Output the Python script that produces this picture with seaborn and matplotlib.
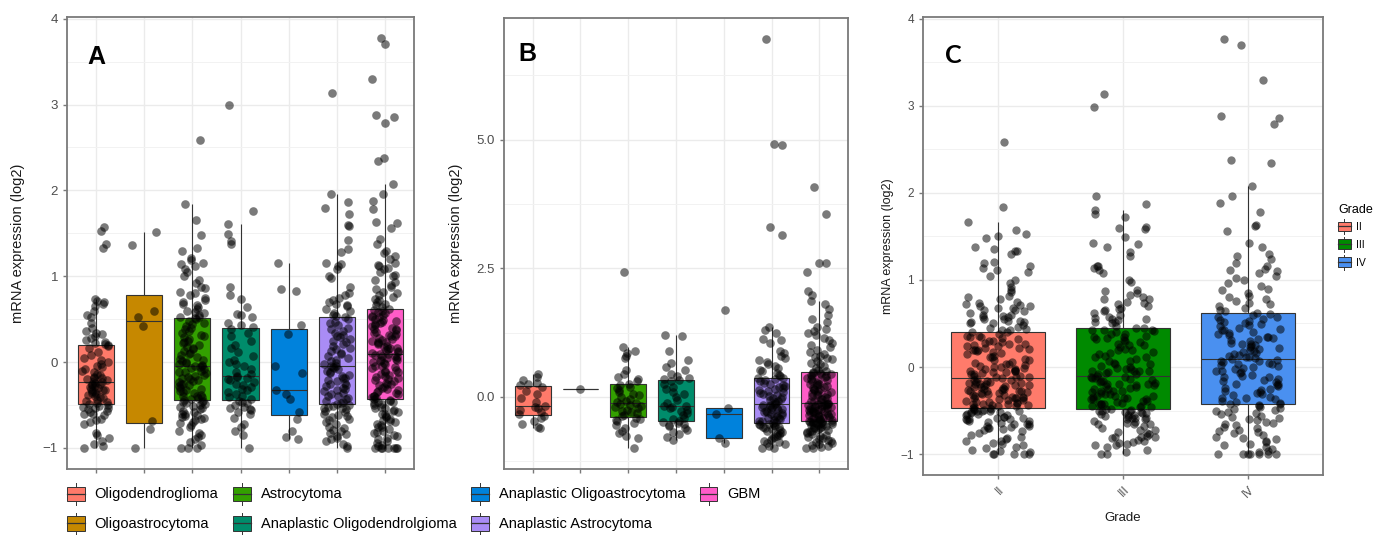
import numpy as np
import pandas as pd
import matplotlib
matplotlib.use("Agg")
import matplotlib.pyplot as plt
import seaborn as sns
from matplotlib.patches import Patch, Rectangle
from matplotlib.lines import Line2D
from matplotlib.legend_handler import HandlerBase
from matplotlib.ticker import MultipleLocator, FixedLocator

plt.rcParams['font.family'] = ['Liberation Sans', 'DejaVu Sans']

# ---- tipos tumorales y colores ----
tipos = ['Oligodendroglioma', 'Oligoastrocytoma', 'Astrocytoma',
         'Anaplastic Oligodendrolgioma', 'Anaplastic Oligoastrocytoma',
         'Anaplastic Astrocytoma', 'GBM']
colores_tipos = ['#FF7A6A', '#C68800', '#33A000', '#008C6B',
                 '#0082DC', '#A98CF5', '#FF5CC8']
grados = ['II', 'III', 'IV']
colores_grados = ['#FF7B6B', '#008A00', '#4A90F0']

# ---- panel A (mRNA, log2) ----
a_oligodendroglioma = [
    -1.00, -0.98, -0.95, -0.92, -0.88, -0.85, -0.83, -0.72, -0.70, -0.68,
    -0.66, -0.62, -0.60, -0.60, -0.58, -0.57, -0.55, -0.54, -0.53, -0.52,
    -0.51, -0.50, -0.49,
    -0.48, -0.47, -0.45, -0.44, -0.42, -0.41, -0.40, -0.38, -0.37, -0.36,
    -0.35, -0.34, -0.33, -0.32, -0.31, -0.30, -0.29, -0.28, -0.27, -0.26,
    -0.25, -0.24, -0.23,
    -0.22, -0.21, -0.20, -0.19, -0.18, -0.17, -0.15, -0.14, -0.12, -0.10,
    -0.08, -0.06, -0.04, -0.02, 0.00, 0.02, 0.05, 0.08, 0.12, 0.16,
    0.19, 0.20, 0.21,
    0.22, 0.24, 0.26, 0.28, 0.30, 0.33, 0.34, 0.36, 0.40, 0.45,
    0.52, 0.55, 0.60, 0.65, 0.68, 0.70, 0.71, 0.73, 1.33, 1.38,
    1.53, 1.57]
a_oligoastrocytoma = [1.51, 1.36, 0.59, 0.53, 0.42, -0.69, -0.78, -1.00]
a_astrocytoma = [
    -1.00, -1.00, -1.00, -0.97, -0.93, -0.90, -0.87, -0.85, -0.82, -0.80,
    -0.76, -0.73, -0.71, -0.70, -0.68, -0.66, -0.65, -0.64, -0.63, -0.62,
    -0.61, -0.60, -0.58, -0.57, -0.55, -0.54, -0.52, -0.51, -0.50, -0.49,
    -0.48, -0.47, -0.46, -0.45,
    -0.44, -0.43, -0.42, -0.41, -0.40, -0.39, -0.38, -0.36, -0.35, -0.34,
    -0.32, -0.31, -0.30, -0.28, -0.27, -0.26, -0.25, -0.23, -0.22, -0.21,
    -0.20, -0.18, -0.17, -0.16, -0.15, -0.13, -0.12, -0.11, -0.10, -0.08,
    -0.07, -0.06, -0.05, -0.04,
    -0.03, -0.02, -0.01, 0.00, 0.01, 0.03, 0.04, 0.06, 0.08, 0.09,
    0.11, 0.13, 0.15, 0.17, 0.18, 0.20, 0.22, 0.24, 0.25, 0.27,
    0.29, 0.30, 0.32, 0.34, 0.36, 0.38, 0.40, 0.42, 0.44, 0.46,
    0.48, 0.50, 0.51, 0.52,
    0.53, 0.55, 0.57, 0.58, 0.60, 0.62, 0.64, 0.66, 0.70, 0.72,
    0.75, 0.78, 0.80, 0.82, 0.86, 0.88, 0.92, 0.96, 1.00, 1.05,
    1.09, 1.12, 1.14, 1.16, 1.19, 1.21, 1.30, 1.33, 1.48, 1.66,
    1.84, 2.59, 0.68]
a_anapl_oligodendro = [
    -1.00, -0.85, -0.80, -0.76, -0.72, -0.65, -0.60, -0.58, -0.56, -0.55,
    -0.53, -0.52, -0.50, -0.48, -0.46, -0.45,
    -0.43, -0.41, -0.39, -0.37, -0.35, -0.33, -0.31, -0.29, -0.27, -0.25,
    -0.23, -0.21, -0.20, -0.19, -0.17, -0.16,
    -0.14, -0.11, -0.08, -0.05, -0.02, 0.00, 0.03, 0.07, 0.12, 0.16,
    0.20, 0.25, 0.30, 0.34, 0.38, 0.41,
    0.43, 0.45, 0.52, 0.56, 0.64, 0.74, 0.78, 0.87, 1.38, 1.41,
    1.49, 1.61, 1.76, 2.99, 0.55]
a_anapl_oligoastro = [1.16, 0.85, 0.83, 0.43, 0.33, -0.05, -0.13, -0.33,
                      -0.37, -0.43, -0.58, -0.66, -0.80, -0.87, -0.90]
a_anapl_astro = [
    -1.00, -0.98, -0.95, -0.92, -0.90, -0.88, -0.86, -0.84, -0.82, -0.80,
    -0.79, -0.77, -0.75, -0.72, -0.70, -0.68, -0.66, -0.64, -0.63, -0.62,
    -0.60, -0.58, -0.57, -0.55, -0.54, -0.53, -0.52, -0.51, -0.50, -0.49,
    -0.48, -0.46, -0.45, -0.43, -0.42, -0.40, -0.39, -0.37, -0.36, -0.34,
    -0.33, -0.31, -0.30, -0.28, -0.27, -0.25, -0.24, -0.22, -0.21, -0.19,
    -0.18, -0.16, -0.15, -0.13, -0.12, -0.10, -0.08, -0.07, -0.06, -0.05,
    -0.04, -0.02, -0.01, 0.01, 0.03, 0.05, 0.07, 0.09, 0.11, 0.13,
    0.15, 0.17, 0.19, 0.21, 0.23, 0.25, 0.27, 0.29, 0.31, 0.32,
    0.34, 0.36, 0.38, 0.40, 0.43, 0.45, 0.47, 0.50, 0.52, 0.54,
    0.55, 0.57, 0.60, 0.62, 0.65, 0.67, 0.70, 0.72, 0.75, 0.78,
    0.80, 0.88, 0.98, 1.00, 1.08, 1.12, 1.14, 1.16, 1.28, 1.32,
    1.42, 1.58, 1.60, 1.72, 1.80, 1.87, 1.96, 3.13, 0.68]
a_gbm = [
    -1.00, -1.00, -1.00, -1.00, -1.00, -1.00, -1.00, -0.98, -0.96, -0.94,
    -0.92, -0.90, -0.88, -0.86, -0.85, -0.83, -0.81, -0.80, -0.78, -0.76,
    -0.75, -0.73, -0.72, -0.70, -0.69, -0.67, -0.66, -0.64, -0.63, -0.61,
    -0.60, -0.58, -0.57, -0.56, -0.54, -0.53, -0.52, -0.50, -0.49, -0.48,
    -0.47, -0.46, -0.45, -0.44, -0.43,
    -0.42, -0.41, -0.40, -0.39, -0.37, -0.36, -0.35, -0.34, -0.32, -0.31,
    -0.30, -0.29, -0.27, -0.26, -0.25, -0.24, -0.22, -0.21, -0.20, -0.19,
    -0.17, -0.16, -0.15, -0.14, -0.12, -0.11, -0.10, -0.09, -0.07, -0.06,
    -0.05, -0.04, -0.02, -0.01, 0.00, 0.01, 0.02, 0.03, 0.04, 0.05,
    0.06, 0.07, 0.07, 0.08, 0.09,
    0.10, 0.11, 0.12, 0.13, 0.14, 0.15, 0.16, 0.17, 0.18, 0.19,
    0.21, 0.22, 0.23, 0.24, 0.25, 0.26, 0.27, 0.28, 0.30, 0.31,
    0.32, 0.33, 0.34, 0.35, 0.37, 0.38, 0.39, 0.40, 0.42, 0.43,
    0.44, 0.45, 0.47, 0.48, 0.49, 0.50, 0.52, 0.53, 0.54, 0.55,
    0.57, 0.58, 0.60, 0.61, 0.62,
    0.64, 0.66, 0.68, 0.70, 0.72, 0.74, 0.76, 0.78, 0.80, 0.82,
    0.85, 0.88, 0.90, 0.93, 0.96, 1.00, 1.02, 1.05, 1.08, 1.10,
    1.13, 1.16, 1.20, 1.24, 1.27, 1.30, 1.38, 1.43, 1.56, 1.62,
    1.63, 1.78, 1.88, 1.96, 2.08, 2.34, 2.38, 2.79, 2.86, 2.88,
    3.30, 3.70, 3.77, 1.12]

# ---- panel B ----
b_oligodendroglioma = [-0.60, -0.58, -0.52, -0.47, -0.40, -0.38,
                       -0.34, -0.30, -0.25, -0.21, -0.19, -0.17,
                       -0.10, -0.02, 0.05, 0.12, 0.20, 0.23,
                       0.25, 0.28, 0.33, 0.38, 0.45]
b_oligoastrocytoma = [0.16]
b_astrocytoma = [
    -0.99, -0.80, -0.75, -0.70, -0.66, -0.60, -0.55, -0.50, -0.47, -0.44,
    -0.42, -0.40,
    -0.38, -0.35, -0.32, -0.30, -0.27, -0.25, -0.22, -0.20, -0.18, -0.15,
    -0.13, -0.12,
    -0.10, -0.07, -0.04, 0.00, 0.03, 0.06, 0.10, 0.13, 0.17, 0.20,
    0.24, 0.26,
    0.30, 0.34, 0.38, 0.45, 0.52, 0.75, 0.80, 0.85, 0.90, 0.97, 2.42]
b_anapl_oligodendro = [
    -0.83, -0.78, -0.72, -0.68, -0.64, -0.60, -0.57, -0.55, -0.52, -0.50,
    -0.49,
    -0.46, -0.43, -0.40, -0.36, -0.32, -0.28, -0.25, -0.22, -0.20, -0.18,
    -0.17,
    -0.12, -0.06, 0.00, 0.05, 0.10, 0.16, 0.20, 0.25, 0.30, 0.33,
    0.34,
    0.36, 0.40, 0.45, 0.52, 0.58, 0.65, 0.72, 0.90, 1.18, 1.20]
b_anapl_oligoastro = [1.68, -0.22, -0.33, -0.80, -0.90]
b_anapl_astro = [
    -0.99, -0.99, -0.95, -0.92, -0.90, -0.88, -0.85, -0.83, -0.80, -0.78,
    -0.76, -0.74, -0.72, -0.70, -0.68, -0.66, -0.64, -0.62, -0.60, -0.59,
    -0.58, -0.56, -0.55, -0.54, -0.53, -0.52,
    -0.50, -0.49, -0.47, -0.46, -0.44, -0.43, -0.41, -0.40, -0.38, -0.37,
    -0.35, -0.33, -0.32, -0.30, -0.29, -0.27, -0.26, -0.24, -0.23, -0.21,
    -0.20, -0.19, -0.17, -0.16, -0.15, -0.14,
    -0.12, -0.10, -0.08, -0.06, -0.04, -0.02, 0.00, 0.02, 0.04, 0.06,
    0.08, 0.10, 0.12, 0.14, 0.16, 0.18, 0.20, 0.22, 0.24, 0.26,
    0.28, 0.30, 0.32, 0.34, 0.36, 0.37,
    0.40, 0.43, 0.46, 0.50, 0.53, 0.57, 0.60, 0.64, 0.68, 0.72,
    0.76, 0.80, 0.85, 0.90, 1.05, 1.10, 1.12, 1.25, 1.30, 1.36,
    3.15, 3.30, 4.90, 4.92, 6.95]
b_gbm = [
    -0.99, -0.99, -0.97, -0.95, -0.93, -0.91, -0.89, -0.87, -0.85, -0.83,
    -0.81, -0.79, -0.78, -0.76, -0.74, -0.72, -0.71, -0.69, -0.67, -0.66,
    -0.64, -0.63, -0.61, -0.60, -0.59, -0.58, -0.56, -0.55, -0.54, -0.53,
    -0.52, -0.51, -0.50, -0.50, -0.49, -0.49, -0.48, -0.48,
    -0.47, -0.46, -0.45, -0.44, -0.43, -0.42, -0.41, -0.40, -0.39, -0.38,
    -0.37, -0.36, -0.35, -0.34, -0.33, -0.32, -0.31, -0.30, -0.29, -0.28,
    -0.27, -0.26, -0.25, -0.24, -0.23, -0.22, -0.21, -0.20, -0.19, -0.18,
    -0.17, -0.16, -0.16, -0.15, -0.14, -0.13, -0.13, -0.12,
    -0.10, -0.08, -0.07, -0.05, -0.04, -0.02, 0.00, 0.01, 0.03, 0.05,
    0.06, 0.08, 0.10, 0.11, 0.13, 0.15, 0.16, 0.18, 0.20, 0.21,
    0.23, 0.25, 0.26, 0.28, 0.30, 0.31, 0.33, 0.35, 0.36, 0.38,
    0.40, 0.41, 0.43, 0.44, 0.45, 0.46, 0.47, 0.48,
    0.50, 0.53, 0.56, 0.60, 0.63, 0.66, 0.70, 0.73, 0.76, 0.80,
    0.84, 0.88, 0.92, 0.96, 1.00, 1.05, 1.10, 1.14, 1.20, 1.24,
    1.28, 1.32, 1.36, 1.45, 1.52, 1.60, 1.70, 1.80, 1.87, 1.98,
    2.05, 2.43, 2.60, 2.60, 3.55, 4.08, 0.78]

EDGE = '#333333'
GRID = '#EBEBEB'
FRAME = '#7A7A7A'
TICKTXT = '#4D4D4D'


def tabla(grupos, nombres):
    filas = []
    for nombre, vals in zip(nombres, grupos):
        filas += [(nombre, v) for v in vals]
    return pd.DataFrame(filas, columns=['grupo', 'expr'])


def panel(ax, df, orden, paleta, ylim, size=6.2, jitter=0.28):
    ax.set_axisbelow(True)
    sns.boxplot(data=df, x='grupo', y='expr', hue='grupo', order=orden,
                hue_order=orden, palette=paleta, width=0.75, showfliers=False,
                linecolor=EDGE, linewidth=0.8, capwidths=0, saturation=1,
                legend=False, ax=ax)
    sns.stripplot(data=df, x='grupo', y='expr', order=orden, color='black',
                  alpha=0.52, size=size, jitter=jitter, linewidth=0, ax=ax)
    ax.set_xlim(-0.6, len(orden) - 0.4)
    ax.set_ylim(*ylim)
    ax.grid(which='major', color=GRID, lw=1.0)
    ax.grid(which='minor', axis='y', color='#F2F2F2', lw=0.7)
    for s in ax.spines.values():
        s.set_color(FRAME)
        s.set_linewidth(1.3)
    ax.tick_params(which='major', color=FRAME, length=3, width=1,
                   labelcolor=TICKTXT, labelsize=9.5)
    ax.tick_params(which='minor', length=0)
    ax.set_xlabel('')


class BoxGlyph(HandlerBase):
    def create_artists(self, legend, orig_handle, xdescent, ydescent,
                       width, height, fontsize, trans):
        x0, y0 = -xdescent, -ydescent
        cx = x0 + width / 2
        bh = height * 0.66
        by = y0 + (height - bh) / 2
        caja = Rectangle((x0, by), width, bh,
                         facecolor=orig_handle.get_facecolor(),
                         edgecolor=EDGE, lw=0.7, transform=trans)
        med = Line2D([x0, x0 + width], [y0 + height / 2] * 2, color=EDGE,
                     lw=0.9, transform=trans)
        arriba = Line2D([cx, cx], [by + bh, y0 + height], color=EDGE,
                        lw=0.7, transform=trans)
        abajo = Line2D([cx, cx], [y0, by], color=EDGE, lw=0.7,
                       transform=trans)
        return [caja, med, arriba, abajo]


np.random.seed(7)
fig = plt.figure(figsize=(13.74, 5.42), dpi=100)
W, H = 1374, 542


def caja(x0, x1, y0, y1):
    return [x0 / W, 1 - y1 / H, (x1 - x0) / W, (y1 - y0) / H]


# ---- A ----
df_a = tabla([a_oligodendroglioma, a_oligoastrocytoma, a_astrocytoma,
              a_anapl_oligodendro, a_anapl_oligoastro, a_anapl_astro, a_gbm],
             tipos)
ax_a = fig.add_axes(caja(67, 414, 17, 469))
panel(ax_a, df_a, tipos, colores_tipos, (-1.245, 4.02))
ax_a.yaxis.set_major_locator(FixedLocator([-1, 0, 1, 2, 3, 4]))
ax_a.yaxis.set_minor_locator(MultipleLocator(0.5))
ax_a.tick_params(axis='x', labelbottom=False)
ax_a.set_ylabel('mRNA expression (log2)', fontsize=10.5, color='#1A1A1A')
ax_a.yaxis.set_label_coords(-0.12, 0.5)
ax_a.text(0.086, 0.912, 'A', transform=ax_a.transAxes, fontsize=18,
          fontweight='bold', ha='center', va='center')

# ---- B ----
df_b = tabla([b_oligodendroglioma, b_oligoastrocytoma, b_astrocytoma,
              b_anapl_oligodendro, b_anapl_oligoastro, b_anapl_astro, b_gbm],
             tipos)
ax_b = fig.add_axes(caja(504, 848, 18, 469))
panel(ax_b, df_b, tipos, colores_tipos, (-1.40, 7.36))
ax_b.yaxis.set_major_locator(FixedLocator([0, 2.5, 5.0]))
ax_b.yaxis.set_major_formatter(plt.FormatStrFormatter('%.1f'))
ax_b.yaxis.set_minor_locator(FixedLocator([-1.25, 1.25, 3.75, 6.25]))
ax_b.tick_params(axis='x', labelbottom=False)
ax_b.set_ylabel('mRNA expression (log2)', fontsize=10.5, color='#1A1A1A')
ax_b.yaxis.set_label_coords(-0.12, 0.5)
ax_b.text(0.067, 0.92, 'B', transform=ax_b.transAxes, fontsize=18,
          fontweight='bold', ha='center', va='center')

# ---- C (por grado) ----
df_c = tabla([a_oligodendroglioma + a_oligoastrocytoma + a_astrocytoma,
              a_anapl_oligodendro + a_anapl_oligoastro + a_anapl_astro,
              a_gbm], grados)
ax_c = fig.add_axes(caja(923, 1323, 17, 475))
panel(ax_c, df_c, grados, colores_grados, (-1.24, 4.02), size=6.0,
      jitter=0.26)
ax_c.yaxis.set_major_locator(FixedLocator([-1, 0, 1, 2, 3, 4]))
ax_c.yaxis.set_minor_locator(MultipleLocator(0.5))
ax_c.tick_params(axis='both', labelsize=8.5)
for t in ax_c.get_xticklabels():
    t.set_rotation(45)
    t.set_ha('right')
    t.set_rotation_mode('anchor')
ax_c.set_ylabel('mRNA expression (log2)', fontsize=9, color='#1A1A1A')
ax_c.yaxis.set_label_coords(-0.072, 0.5)
ax_c.set_xlabel('Grade', fontsize=9.5, color='#1A1A1A')
ax_c.xaxis.set_label_coords(0.5, -0.08)
ax_c.text(0.075, 0.917, 'C', transform=ax_c.transAxes, fontsize=18,
          fontweight='bold', ha='center', va='center',
          family=['Lato', 'DejaVu Sans'])

# ---- leyendas ----
h_tipos = [Patch(facecolor=c) for c in colores_tipos]
fig.legend(h_tipos, tipos, handler_map={Patch: BoxGlyph()}, ncol=4,
           loc='upper left', bbox_to_anchor=(67 / W, 1 - 483 / H),
           frameon=False, fontsize=10.5, handlelength=1.2, handleheight=1.9,
           handletextpad=0.7, columnspacing=1.0, labelspacing=0.55,
           borderpad=0, borderaxespad=0)

h_grados = [Patch(facecolor=c) for c in colores_grados]
leg_c = fig.legend(h_grados, grados, handler_map={Patch: BoxGlyph()},
                   title='Grade', loc='upper left',
                   bbox_to_anchor=(1338 / W, 1 - 204 / H), frameon=False,
                   fontsize=7.5, title_fontsize=9, handlelength=1.2,
                   handleheight=1.8, handletextpad=0.5, labelspacing=0.3,
                   borderpad=0, borderaxespad=0, alignment='left')

fig.savefig('out.png', dpi=100)
